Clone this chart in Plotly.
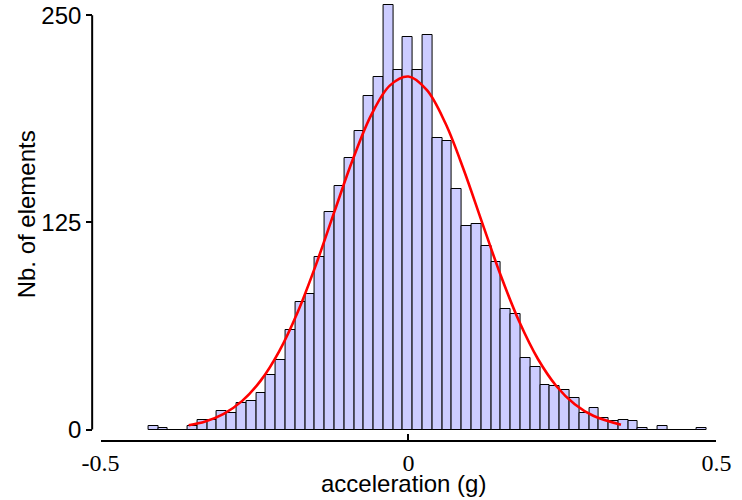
import plotly.graph_objects as go

# ---- data ----
bin_start = -0.4222      # left edge of first bin (g)
bin_width = 0.0159       # bin width (g)
counts = [2, 1, 0, 0, 2, 6, 6, 11, 10, 16,
          17, 22, 33, 42, 60, 77, 82, 104, 131, 147,
          164, 180, 201, 213, 256, 217, 237, 217, 238, 176,
          174, 145, 123, 124, 111, 101, 73, 70, 43, 38,
          27, 26, 24, 19, 10, 13, 7, 5, 6, 5,
          1, 0, 2, 0, 0, 0, 1]

# fitted normal curve
curve_x = [-0.357, -0.33, -0.30, -0.27, -0.24, -0.21, -0.18, -0.15, -0.12, -0.09,
           -0.06, -0.03, 0.0, 0.03, 0.06, 0.09, 0.12, 0.15, 0.18, 0.21,
           0.24, 0.27, 0.30, 0.345]
curve_y = [2.6, 4.9, 9.5, 17.3, 29.5, 47.2, 70.8, 99.7, 131.8, 163.4,
           190.2, 207.7, 213.0, 204.8, 184.8, 156.5, 124.4, 92.8, 65.0, 42.7,
           26.3, 15.2, 8.3, 2.9]

x_tickvals = [-0.5, 0, 0.5]
x_ticktext = ["-0.5", "0", "0.5"]
y_tickvals = [0, 125, 250]
y_ticktext = ["0", "125", "250"]

x_title = "acceleration (g)"
y_title = "Nb. of elements"

centers = [bin_start + bin_width * (i + 0.5) for i in range(len(counts))]

W, H = 742, 500
ml, mr, mt, mb = 60, 10, 2, 55
pw = W - ml - mr
ph = H - mt - mb

def px_x(p):
    return (p - ml) / pw

def px_y(p):
    return (H - mb - p) / ph

fig = go.Figure()
fig.add_trace(go.Bar(
    x=centers, y=counts, width=bin_width,
    marker=dict(color="#CCCCFF", line=dict(color="#000000", width=1)),
    showlegend=False, hoverinfo="x+y",
))
fig.add_trace(go.Scatter(
    x=curve_x, y=curve_y, mode="lines",
    line=dict(color="#FF0000", width=2.6, shape="spline", smoothing=1.0),
    showlegend=False,
))

sans = "Liberation Sans, Arial, sans-serif"
serif = "Liberation Serif, Times New Roman, serif"

fig.update_layout(
    width=W, height=H,
    margin=dict(l=ml, r=mr, t=mt, b=mb, pad=0),
    plot_bgcolor="white", paper_bgcolor="white",
    bargap=0,
    xaxis=dict(
        domain=[px_x(101), px_x(723.3)],
        range=[-0.5, 0.5],
        anchor="free", position=px_y(440.7),
        showline=True, linecolor="black", linewidth=2,
        ticks="inside", ticklen=6, tickwidth=2, tickcolor="black",
        tickvals=x_tickvals, ticktext=x_ticktext,
        tickfont=dict(family=serif, size=24, color="black"),
        showgrid=False, zeroline=False,
    ),
    yaxis=dict(
        domain=[px_y(431.2), 1],
        range=[-1, 258],
        anchor="free", position=px_x(92.5),
        showline=False,
        ticks="outside", ticklen=6, tickwidth=2, tickcolor="black",
        tickvals=y_tickvals, ticktext=y_ticktext,
        tickfont=dict(family=sans, size=24, color="black"),
        showgrid=False, zeroline=False,
    ),
    shapes=[dict(type="line", xref="paper", yref="y",
                 x0=px_x(92.5), x1=px_x(92.5), y0=0, y1=250,
                 line=dict(color="black", width=2))],
    annotations=[
        dict(text=x_title, xref="paper", yref="paper",
             x=px_x(407.5), y=px_y(483), xanchor="center", yanchor="middle",
             showarrow=False, font=dict(family=sans, size=24, color="black")),
        dict(text=y_title, xref="paper", yref="paper",
             x=px_x(26), y=px_y(214), xanchor="center", yanchor="middle",
             textangle=-90, showarrow=False,
             font=dict(family=sans, size=24, color="black")),
    ],
)

# remove the browser's default 8px body margin so the figure sits at the page corner
fig.write_html("out.html", config={"displayModeBar": False},
               post_script="document.body.style.margin='0';")
